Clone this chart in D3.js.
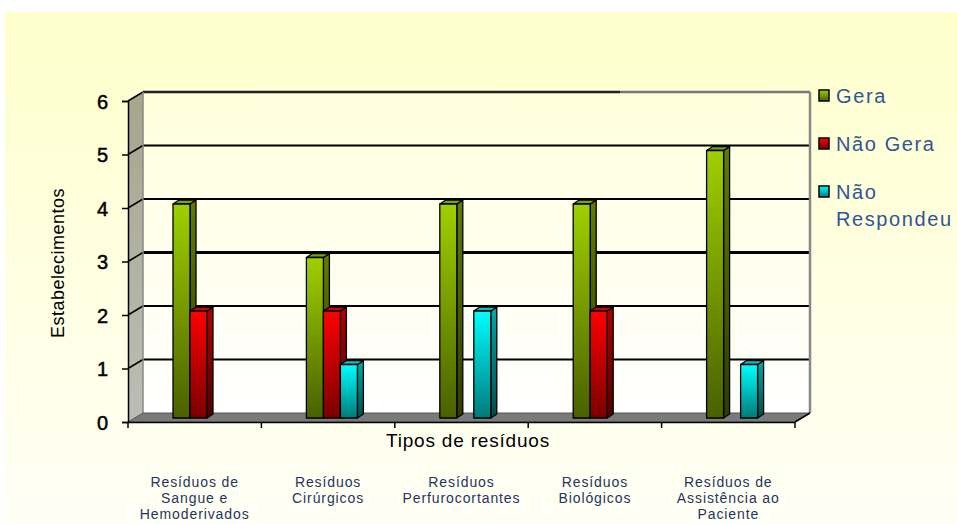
<!DOCTYPE html>
<html><head><meta charset="utf-8">
<script src="https://cdn.jsdelivr.net/npm/d3@7"></script>
<style>body{margin:0;background:#fff}svg{display:block}</style>
</head><body>
<script>
const categories = [
  ["Resíduos de","Sangue e","Hemoderivados"],
  ["Resíduos","Cirúrgicos"],
  ["Resíduos","Perfurocortantes"],
  ["Resíduos","Biológicos"],
  ["Resíduos de","Assistência ao","Paciente"]
];
const catKeys = ["c1","c2","c3","c4","c5"];
const seriesNames = ["Gera","Não Gera","Não Respondeu"];
const gera = [4,3,4,4,5];
const naoGera = [2,2,0,2,0];
const naoRespondeu = [0,1,2,0,1];
const yTicks = [0,1,2,3,4,5,6];

const W=957,H=524;
const FONT="Arial, 'Liberation Sans', sans-serif";
const svg=d3.select("body").append("svg").attr("width",W).attr("height",H);
const defs=svg.append("defs");
function lg(id,c1,c2,vertical=true){
  const g=defs.append("linearGradient").attr("id",id).attr("x1",0).attr("y1",0).attr("x2",vertical?0:1).attr("y2",vertical?1:0);
  g.append("stop").attr("offset","0%").attr("stop-color",c1);
  g.append("stop").attr("offset","100%").attr("stop-color",c2);
}
lg("bg","#FFFFCC","#FFFFF6");
lg("wall","#FFFFDC","#FFFFFF");
lg("side","#A6A68C","#BDBDB6");
const pal=[
  {front:["#9FD000","#4A6000"],side:["#5F7D00","#2E3C00"],top:"#7FA300"},
  {front:["#FF0000","#7A0000"],side:["#B00000","#500000"],top:"#D00000"},
  {front:["#00FFFF","#007A7A"],side:["#00A8A8","#004C4C"],top:"#00C8C8"}
];
pal.forEach((p,i)=>{lg("f"+i,p.front[0],p.front[1]);lg("s"+i,p.side[0],p.side[1]);});

svg.append("rect").attr("x",5).attr("y",12).attr("width",W-5).attr("height",H-12).attr("fill","url(#bg)");

const DX=15,DY=-9;
const x0=d3.scaleBand().domain(catKeys).range([128,795]);
const y=d3.scaleLinear().domain([0,6]).range([422,101]);
const xs=d3.scaleBand().domain(seriesNames).range([45,96]);
const left=128,right=795;

// back wall
svg.append("rect").attr("x",left+DX).attr("y",y(6)+DY).attr("width",right-left).attr("height",y(0)-y(6)).attr("fill","url(#wall)");
// side wall
svg.append("path").attr("d",`M${left},${y(6)}L${left+DX},${y(6)+DY}L${left+DX},${y(0)+DY}L${left},${y(0)}Z`).attr("fill","url(#side)");
// gridlines
yTicks.forEach(t=>{
  if(t===0) return;
  if(t===6){
    svg.append("line").attr("x1",left+DX).attr("x2",620).attr("y1",y(t)+DY).attr("y2",y(t)+DY).attr("stroke","#222").attr("stroke-width",2.5);
    svg.append("line").attr("x1",620).attr("x2",right+DX).attr("y1",y(t)+DY).attr("y2",y(t)+DY).attr("stroke","#777").attr("stroke-width",2.5);
  } else {
    svg.append("line").attr("x1",left+DX).attr("x2",right+DX).attr("y1",y(t)+DY).attr("y2",y(t)+DY)
      .attr("stroke","#000").attr("stroke-width",t===3?3:2);
  }
  svg.append("line").attr("x1",left).attr("x2",left+DX).attr("y1",y(t)).attr("y2",y(t)+DY).attr("stroke","#000").attr("stroke-width",1.5);
});
svg.append("line").attr("x1",left+DX).attr("x2",left+DX).attr("y1",y(6)+DY).attr("y2",y(0)+DY).attr("stroke","#888").attr("stroke-width",1.5);
svg.append("line").attr("x1",right+DX).attr("x2",right+DX).attr("y1",y(6)+DY).attr("y2",y(0)+DY).attr("stroke","#888").attr("stroke-width",2.5);
// floor
svg.append("path").attr("d",`M${left},${y(0)}L${right},${y(0)}L${right+DX},${y(0)+DY}L${left+DX},${y(0)+DY}Z`).attr("fill","#7A7A7A").attr("stroke","#555").attr("stroke-width",1);

// bars
const BD=6,BH=-4,barShift=-4;
const data=[gera,naoGera,naoRespondeu];
const bw=xs.bandwidth();
catKeys.forEach((c,ci)=>{
  seriesNames.forEach((s,si)=>{
    const v=data[si][ci];
    if(!v) return;
    const xL=x0(c)+xs(s), yT=y(v)+barShift, yB=y(0)+barShift;
    const g=svg.append("g").attr("stroke","#000").attr("stroke-width",1.3).attr("stroke-linejoin","round");
    g.append("path").attr("d",`M${xL+bw},${yT}L${xL+bw+BD},${yT+BH}L${xL+bw+BD},${yB+BH}L${xL+bw},${yB}Z`).attr("fill",`url(#s${si})`);
    g.append("path").attr("d",`M${xL},${yT}L${xL+BD},${yT+BH}L${xL+bw+BD},${yT+BH}L${xL+bw},${yT}Z`).attr("fill",pal[si].top);
    g.append("rect").attr("x",xL).attr("y",yT).attr("width",bw).attr("height",yB-yT).attr("fill",`url(#f${si})`);
  });
});

// axes
const ya=d3.axisLeft(y).tickValues(yTicks).tickSize(6).tickFormat(d3.format("d"));
const yg=svg.append("g").attr("transform",`translate(${left},0)`).call(ya);
yg.select(".domain").attr("stroke","#000").attr("stroke-width",1.5);
yg.selectAll(".tick line").attr("stroke","#000").attr("stroke-width",1.5);
yg.selectAll(".tick text").attr("font-family",FONT).attr("font-size",20).attr("fill","#000").attr("x",-20).attr("dy","0.35em")
  .attr("stroke","#000").attr("stroke-width",0.5);

const xa=d3.axisBottom(x0).tickSize(0).tickFormat("");
const xg=svg.append("g").attr("transform",`translate(0,${y(0)})`).call(xa);
xg.select(".domain").attr("stroke","#000").attr("stroke-width",1.5);
const bounds=catKeys.map(c=>x0(c)).concat([right]);
xg.selectAll(".bt").data(bounds).enter().append("line").attr("x1",d=>d).attr("x2",d=>d).attr("y1",0).attr("y2",6).attr("stroke","#000").attr("stroke-width",1.5);
svg.append("path").attr("d",`M${right},${y(0)}L${right+DX},${y(0)+DY}`).attr("stroke","#000").attr("stroke-width",1.5);

// titles
svg.append("text").attr("transform","translate(64,263) rotate(-90)").attr("text-anchor","middle")
  .attr("font-family",FONT).attr("font-size",18).attr("letter-spacing",0.5).attr("fill","#000").text("Estabelecimentos");
svg.append("text").attr("x",468).attr("y",447).attr("text-anchor","middle")
  .attr("font-family",FONT).attr("font-size",19).attr("letter-spacing",0.8).attr("fill","#000").text("Tipos de resíduos");

// category labels
catKeys.forEach((c,ci)=>{
  const cx=x0(c)+x0.bandwidth()/2;
  const t=svg.append("text").attr("x",cx).attr("y",487).attr("text-anchor","middle")
    .attr("font-family",FONT).attr("font-size",14).attr("letter-spacing",0.9).attr("fill","#1F3560");
  categories[ci].forEach((line,li)=>t.append("tspan").attr("x",cx).attr("dy",li?16:0).text(line));
});

// legend
const legY=[96,144,192];
const legText=[["Gera"],["Não Gera"],["Não","Respondeu"]];
seriesNames.forEach((s,i)=>{
  svg.append("rect").attr("x",819).attr("y",legY[i]-6).attr("width",10).attr("height",11).attr("fill",`url(#f${i})`).attr("stroke","#000").attr("stroke-width",1.5);
  const t=svg.append("text").attr("x",836).attr("y",legY[i]+7).attr("font-family",FONT).attr("font-size",20).attr("letter-spacing",1.6).attr("fill","#2F5597");
  legText[i].forEach((l,li)=>t.append("tspan").attr("x",836).attr("dy",li?27:0).text(l));
});
</script>
</body></html>
